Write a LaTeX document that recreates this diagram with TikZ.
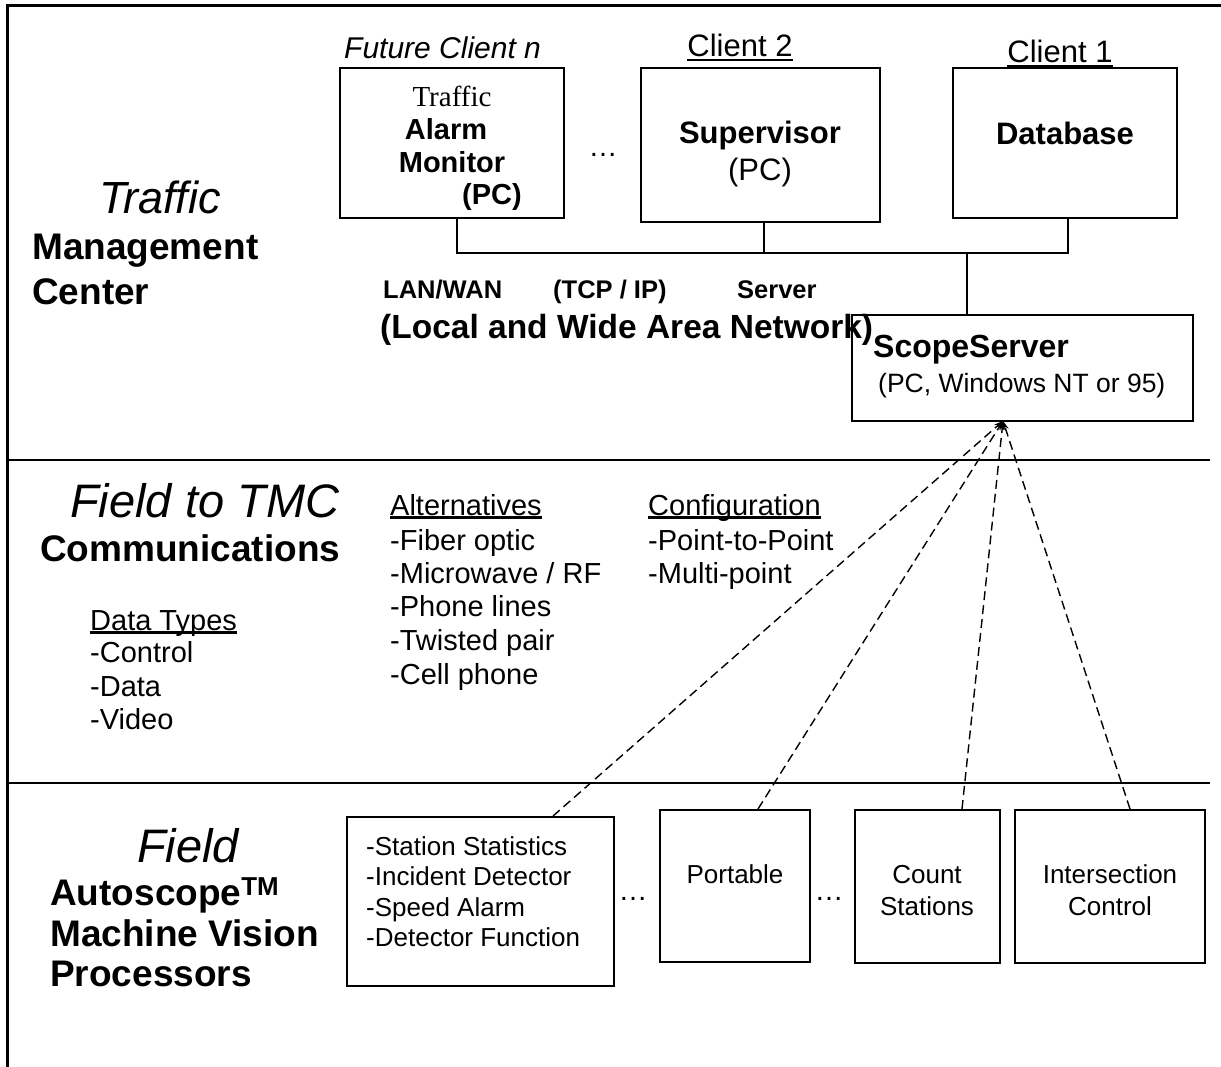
\documentclass[tikz,border=0pt]{standalone}
\usepackage{fontspec}
\setmainfont{Liberation Sans}
\newfontfamily\timesf{Liberation Serif}
\usetikzlibrary{arrows.meta}
\newcommand\ulx[1]{\setbox0\hbox{#1}\rlap{\raisebox{-0.13em}{\rule{\wd0}{0.08em}}}\box0}
\newcommand\fsz[1]{\fontsize{#1}{#1}\selectfont}
\begin{document}
\begin{tikzpicture}[x=1pt,y=-1pt,
  boxx/.style={draw, line width=2pt, inner sep=0pt},
  txt/.style={inner sep=0pt, anchor=base west},
  ctxt/.style={inner sep=0pt, anchor=base},
  wire/.style={line width=2pt},
  sepline/.style={line width=2.5pt},
  dashline/.style={line width=1.4pt, dash pattern=on 9pt off 5pt, -{Stealth[length=9pt,width=6pt]}}]
\useasboundingbox (0,0) rectangle (1221,1067);
% frame
\draw[line width=3pt] (1221,6) -- (7,6) -- (7,1067);
% separators
\draw[sepline] (9,460) -- (1210,460);
\draw[sepline] (9,783) -- (1210,783);

% client boxes
\node[boxx, minimum width=224pt, minimum height=150pt] (b1) at (452,143) {};
\node[boxx, minimum width=239pt, minimum height=154pt] (b2) at (760.5,145) {};
\node[boxx, minimum width=224pt, minimum height=150pt] (b3) at (1065,143) {};
\node[txt] (fc) at (344,59) {\fsz{30}\itshape Future Client n};
\node[ctxt] (c2) at (740,57) {\fsz{31}\ulx{Client 2}};
\node[ctxt] (c1) at (1060,63) {\fsz{31}\ulx{Client 1}};
\node[ctxt] (t1) at (452,107) {\fsz{29}\timesf Traffic};
\node[ctxt] (t2) at (446,140) {\fsz{29}\bfseries Alarm};
\node[ctxt] (t3) at (452,173) {\fsz{29}\bfseries Monitor};
\node[ctxt] (t4) at (492,205) {\fsz{29}\bfseries (PC)};
\node[ctxt] (d1) at (603,157) {\fsz{29}\dots};
\node[ctxt] (s1) at (760,144) {\fsz{31}\bfseries Supervisor};
\node[ctxt] (s2) at (760,181) {\fsz{31}(PC)};
\node[ctxt] (db) at (1065,145) {\fsz{31}\bfseries Database};

% server
\node[boxx, minimum width=341pt, minimum height=106pt] (ss) at (1022.5,368) {};
\node[txt] (ss1) at (873,357.5) {\fsz{32}\bfseries ScopeServer};
\node[txt] (ss2) at (878,392) {\fsz{26.5}(PC, Windows NT or 95)};

% bus
\coordinate (busL) at (457,253);
\coordinate (busM) at (764,253);
\coordinate (busR) at (1068,253);
\coordinate (busS) at (967,253);
\draw[wire] (busL |- b1.south) -- (busL) -- (busR) -- (busR |- b3.south);
\draw[wire] (busM |- b2.south) -- (busM);
\draw[wire] (busS) -- (busS |- ss.north);

\node[txt] (lan) at (383,299) {\fsz{25.5}\bfseries LAN/WAN};
\node[txt] (tcp) at (553,299) {\fsz{25.5}\bfseries (TCP / IP)};
\node[txt] (srv) at (737,299) {\fsz{25.5}\bfseries Server};
\node[txt] (lwan) at (380,338) {\fsz{33.5}\bfseries (Local and Wide Area Network)};

% section titles
\node[ctxt] (tr) at (160,214) {\fsz{45}\itshape Traffic};
\node[txt] (mg) at (32,260) {\fsz{37}\bfseries Management};
\node[txt] (ce) at (32,305) {\fsz{37}\bfseries Center};
\node[txt] (ft) at (70,517) {\fsz{47}\itshape Field to TMC};
\node[txt] (cm) at (40,561) {\fsz{37}\bfseries Communications};
\node[ctxt] (fd) at (188,862) {\fsz{47}\itshape Field};
\node[txt] (au) at (50,905) {\fsz{37}\bfseries Autoscope\textsuperscript{TM}};
\node[txt] (mv) at (50,946) {\fsz{37}\bfseries Machine Vision};
\node[txt] (pr) at (50,986) {\fsz{37}\bfseries Processors};

% lists
\node[txt] (dt0) at (90,630) {\fsz{29}\ulx{Data Types}};
\node[txt] (dt1) at (90,662) {\fsz{29}-Control};
\node[txt] (dt2) at (90,696) {\fsz{29}-Data};
\node[txt] (dt3) at (90,729) {\fsz{29}-Video};
\node[txt] (al0) at (390,515) {\fsz{29}\ulx{Alternatives}};
\node[txt] (al1) at (390,550) {\fsz{29}-Fiber optic};
\node[txt] (al2) at (390,583) {\fsz{29}-Microwave / RF};
\node[txt] (al3) at (390,616) {\fsz{29}-Phone lines};
\node[txt] (al4) at (390,650) {\fsz{29}-Twisted pair};
\node[txt] (al5) at (390,684) {\fsz{29}-Cell phone};
\node[txt] (cf0) at (648,515) {\fsz{29}\ulx{Configuration}};
\node[txt] (cf1) at (648,550) {\fsz{29}-Point-to-Point};
\node[txt] (cf2) at (648,583) {\fsz{29}-Multi-point};

% field boxes
\node[boxx, minimum width=267pt, minimum height=169pt] (bA) at (480.5,901.5) {};
\node[boxx, minimum width=150pt, minimum height=152pt] (bP) at (735,886) {};
\node[boxx, minimum width=145pt, minimum height=153pt] (bC) at (927.5,886.5) {};
\node[boxx, minimum width=190pt, minimum height=153pt] (bI) at (1110,886.5) {};
\node[txt] (a1) at (366,855) {\fsz{26}-Station Statistics};
\node[txt] (a2) at (366,885) {\fsz{26}-Incident Detector};
\node[txt] (a3) at (366,916) {\fsz{26}-Speed Alarm};
\node[txt] (a4) at (366,946) {\fsz{26}-Detector Function};
\node[ctxt] (d2) at (633,900) {\fsz{29}\dots};
\node[ctxt] (d3) at (829,900) {\fsz{29}\dots};
\node[ctxt] (p1) at (735,883) {\fsz{26}Portable};
\node[ctxt] (k1) at (927,883) {\fsz{26}Count};
\node[ctxt] (k2) at (927,915) {\fsz{26}Stations};
\node[ctxt] (i1) at (1110,883) {\fsz{26}Intersection};
\node[ctxt] (i2) at (1110,915) {\fsz{26}Control};

% dashed links
\coordinate (hub) at (1003,421);
\draw[dashline] (553,0 |- bA.north) -- (hub);
\draw[dashline] (758,0 |- bP.north) -- (hub);
\draw[dashline] (962,0 |- bC.north) -- (hub);
\draw[dashline] (1130,0 |- bI.north) -- (hub);
\end{tikzpicture}
\end{document}
